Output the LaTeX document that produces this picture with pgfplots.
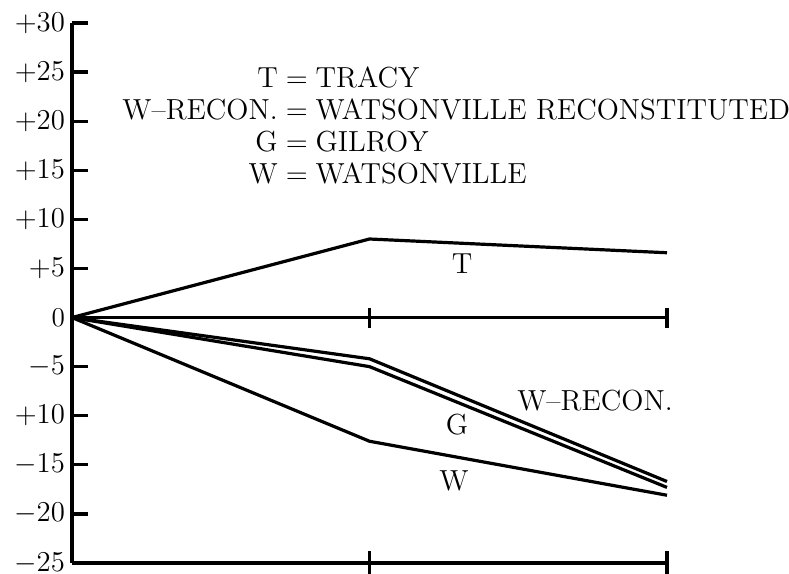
\documentclass[border=0pt]{standalone}
\usepackage{pgfplots}
\pgfplotsset{compat=1.18}
\begin{document}
\begin{tikzpicture}
\begin{axis}[
  scale only axis, width=297.5pt, height=270pt,
  xmin=0, xmax=2, ymin=-25, ymax=30,
  axis x line*=bottom, axis y line*=left,
  axis line style={line width=1.6pt, -},
  clip=false,
  major tick length=8pt,
  xtick=\empty,
  ytick={-25,-20,...,30},
  yticklabels={$-25$,$-20$,$-15$,$+10$,$-5$,0,$+5$,$+10$,$+15$,$+20$,$+25$,$+30$},
  ytick align=inside,
  tick label style={font=\fontsize{13.6}{15}\selectfont},
  every tick/.style={black, line width=1.6pt},
]
\coordinate (o) at (rel axis cs:0,0);
% ticks on the bottom axis
\addplot[draw=none, mark=|, mark size=6pt, mark options={black, line width=1.6pt}]
  coordinates {(1,-25) (2,-25)};
% zero reference line with ticks
\addplot[black, line width=1.6pt, mark=|, mark size=5pt, mark indices={2,3}, mark options={line width=1.6pt}]
  coordinates {(0,0) (1,0) (2,0)};
% T = Tracy
\addplot[black, line width=1.6pt] coordinates {(0,0) (1,8.0) (2,6.6)};
% W-Recon
\addplot[black, line width=1.6pt] coordinates {(0,0) (1,-4.2) (2,-16.7)};
% G = Gilroy
\addplot[black, line width=1.6pt] coordinates {(0,0) (1,-5.0) (2,-17.3)};
% W = Watsonville
\addplot[black, line width=1.6pt] coordinates {(0,0) (1,-12.6) (2,-18.1)};

\begin{scope}[every node/.style={font=\fontsize{14.5}{16}\selectfont, inner sep=0pt}]
\node at (axis cs:1.311,5.45) {T};
\node at (axis cs:1.758,-8.5) {W--RECON.};
\node at (axis cs:1.294,-10.94) {G};
\node at (axis cs:1.284,-16.65) {W};
\node[anchor=base west] at (axis cs:0.168,23.48) {%
  \begin{tabular}[t]{@{}r@{${}={}$}l@{}}
  T & TRACY\\
  W--RECON. & WATSONVILLE RECONSTITUTED\\
  G & GILROY\\
  W & WATSONVILLE
  \end{tabular}};
\end{scope}
\end{axis}
\pgfresetboundingbox
\path (o) ++(-36pt,-5.5pt) rectangle ++(394.5pt,287pt);
\end{tikzpicture}
\end{document}
